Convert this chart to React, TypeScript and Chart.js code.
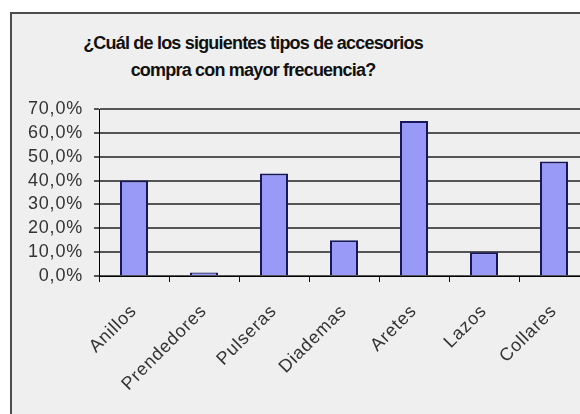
import React, { useEffect, useRef } from 'react';
import { Chart, registerables } from 'chart.js';

Chart.register(...registerables);

const TITLE_LINES = ['¿Cuál de los siguientes tipos de accesorios', 'compra con mayor frecuencia?'];
const CATEGORIES = ['Anillos', 'Prendedores', 'Pulseras', 'Diademas', 'Aretes', 'Lazos', 'Collares'];
const VALUES = [40, 1.5, 43, 15, 65, 10, 48];
const Y_MIN = 0;
const Y_MAX = 70;
const Y_STEP = 10;

const fmtPct = (v: number) => Number(v).toFixed(1).replace('.', ',') + '%';

const spacingPlugin = {
  id: 'letterSpacingPlugin',
  beforeUpdate(chart: any) {
    chart.ctx.letterSpacing = '0.8px';
  },
  beforeDraw(chart: any) {
    chart.ctx.letterSpacing = '0.8px';
  },
};

const TICK_FONT = { family: '"Liberation Sans", Arial, sans-serif', size: 18, lineHeight: 1.0 };

export default function App() {
  const canvasRef = useRef<HTMLCanvasElement | null>(null);

  useEffect(() => {
    const canvas = canvasRef.current;
    if (!canvas) return;
    const chart = new Chart(canvas, {
      type: 'bar',
      data: {
        labels: CATEGORIES,
        datasets: [
          {
            data: VALUES,
            backgroundColor: '#9999f8',
            borderColor: '#17175c',
            borderWidth: 2,
            categoryPercentage: 1,
            barPercentage: 0.4,
          },
        ],
      },
      options: {
        responsive: false,
        animation: false,
        devicePixelRatio: 1,
        layout: { padding: { top: 109, right: 51, left: 0, bottom: 0 } },
        plugins: {
          legend: { display: false },
          title: { display: false },
          tooltip: { enabled: false },
        },
        scales: {
          x: {
            grid: { drawOnChartArea: false, drawTicks: true, tickLength: 6, color: '#111', offset: true },
            border: { display: true, color: '#000', width: 1 },
            ticks: {
              autoSkip: false,
              maxRotation: 45,
              minRotation: 45,
              padding: 20,
              color: '#333',
              font: TICK_FONT,
            },
            afterFit: (s: any) => {
              s.height = 138;
            },
          },
          y: {
            min: Y_MIN,
            max: Y_MAX,
            ticks: {
              autoSkip: false,
              stepSize: Y_STEP,
              callback: (v: any) => fmtPct(v),
              padding: 11,
              color: '#333',
              font: TICK_FONT,
            },
            grid: { color: '#555555', lineWidth: 2, tickLength: 5 },
            border: { display: true, color: '#000', width: 1 },
            afterFit: (s: any) => {
              s.width = 99;
            },
          },
        },
      },
      plugins: [spacingPlugin],
    });
    return () => chart.destroy();
  }, []);

  return (
    <div
      style={{
        position: 'absolute',
        left: 0,
        top: 0,
        width: 580,
        height: 414,
        overflow: 'hidden',
        background: '#ffffff',
      }}
    >
      <div
        style={{
          position: 'absolute',
          left: 10,
          top: 12,
          width: 700,
          height: 500,
          borderLeft: '2px solid #4d4d4d',
          borderTop: '2px solid #4d4d4d',
          background: '#efefef',
        }}
      />
      <div
        style={{
          position: 'absolute',
          left: 12,
          top: 30,
          width: 482,
          textAlign: 'center',
          fontFamily: '"Liberation Sans", Arial, sans-serif',
          fontWeight: 'bold',
          fontSize: 18,
          lineHeight: '27px',
          color: '#111111',
          letterSpacing: '-0.8px',
        }}
      >
        {TITLE_LINES.map((l, i) => (
          <div key={i}>{l}</div>
        ))}
      </div>
      <canvas
        ref={canvasRef}
        width={640}
        height={414}
        style={{ position: 'absolute', left: 0, top: 0 }}
      />
    </div>
  );
}
